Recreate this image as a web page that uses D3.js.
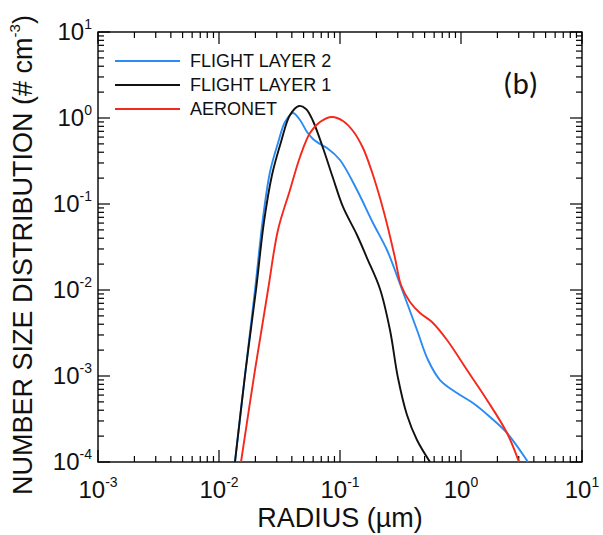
<!DOCTYPE html>
<html><head><meta charset="utf-8">
<script src="https://cdn.jsdelivr.net/npm/d3@7"></script>
<style>body{margin:0;background:#fff}svg{display:block;font-family:"Liberation Sans",Arial,sans-serif}</style>
</head><body><svg id="c" width="603" height="535"></svg>
<script>
// ---- data ----
const seriesNames = ["FLIGHT LAYER 2","FLIGHT LAYER 1","AERONET"];
const seriesColors = ["#2a8cf2","#111111","#f5281c"];
const blueR = [0.01355,0.01641,0.01984,0.02310,0.02639,0.03073,0.03512,0.04089,0.04670,0.05338,0.05982,0.06834,0.07810,0.1,0.1382,0.1874,0.2445,0.3132,0.4328,0.5337,0.6707,0.9267,1.256,1.737,2.400,3.579];
const blueN = [1e-4,1.027e-3,0.01,0.0688,0.2355,0.5122,0.8985,1.143,0.948,0.6873,0.5700,0.4984,0.4478,0.3249,0.1455,0.0601,0.02919,0.01174,3.425e-3,1.535e-3,8.98e-4,6.34e-4,4.85e-4,3.34e-4,2.174e-4,1e-4];
const blackR = [0.01355,0.01641,0.02022,0.02354,0.02742,0.03254,0.03862,0.04582,0.05236,0.05982,0.07236,0.08752,0.1059,0.1382,0.1672,0.2141,0.2589,0.3015,0.3579,0.4328,0.5546];
const blackN = [1e-4,1.027e-3,0.01,0.0618,0.2174,0.5259,1.084,1.379,1.273,0.9228,0.4478,0.2006,0.0923,0.0436,0.02355,0.01027,3.425e-3,9.48e-4,3.52e-4,1.802e-4,1e-4];
const redR = [0.01520,0.01984,0.02541,0.03073,0.03862,0.04670,0.05649,0.06834,0.08589,0.1059,0.1281,0.1549,0.1838,0.2141,0.2492,0.2848,0.3192,0.3789,0.4584,0.5757,0.7662,1.121,1.640,2.400,3.015];
const redN = [1e-4,1.175e-3,0.01,0.0499,0.1455,0.3520,0.669,0.8985,1.027,0.9228,0.7064,0.4478,0.2355,0.1174,0.0526,0.02355,0.01143,7.25e-3,5.40e-3,4.245e-3,2.622e-3,1.175e-3,5.26e-4,2.174e-4,1e-4];
const xDecades = [-3,-2,-1,0,1];
const yDecades = [-4,-3,-2,-1,0,1];
const xTitle = "RADIUS (\u00b5m)";
const panelLabel = "(b)";

// ---- layout ----
const L=98,R=582,T=32,B=462;
const svg=d3.select("#c");
const x=d3.scaleLog().domain([1e-3,10]).range([L,R]);
const y=d3.scaleLog().domain([1e-4,10]).range([B,T]);

svg.append("defs").append("clipPath").attr("id","clip")
  .append("rect").attr("x",L).attr("y",T).attr("width",R-L).attr("height",B-T);

// ticks
function tickVals(decs){const v=[];for(let i=0;i<decs.length-1;i++){for(let m=1;m<10;m++)v.push({v:m*Math.pow(10,decs[i]),major:m===1});}v.push({v:Math.pow(10,decs[decs.length-1]),major:true});return v;}
const g=svg.append("g").attr("stroke","#000").attr("stroke-width",1.2);
tickVals(xDecades).forEach(t=>{const px=x(t.v),len=t.major?12:6;
  g.append("line").attr("x1",px).attr("x2",px).attr("y1",B).attr("y2",B-len);
  g.append("line").attr("x1",px).attr("x2",px).attr("y1",T).attr("y2",T+len);});
tickVals(yDecades).forEach(t=>{const py=y(t.v),len=t.major?12:6;
  g.append("line").attr("x1",L).attr("x2",L+len).attr("y1",py).attr("y2",py);
  g.append("line").attr("x1",R).attr("x2",R-len).attr("y1",py).attr("y2",py);});
svg.append("rect").attr("x",L).attr("y",T).attr("width",R-L).attr("height",B-T)
  .attr("fill","none").attr("stroke","#000").attr("stroke-width",1.4);

// tick labels
xDecades.forEach(e=>{const t=svg.append("text").attr("x",x(Math.pow(10,e))).attr("y",498)
  .attr("text-anchor","middle").attr("font-size",24).attr("fill","#111");
  t.append("tspan").text("10");
  t.append("tspan").attr("font-size",14).attr("dy",-11).text(e<0?"-"+(-e):String(e));});
yDecades.forEach(e=>{const t=svg.append("text").attr("x",92).attr("y",y(Math.pow(10,e))+8)
  .attr("text-anchor","end").attr("font-size",24).attr("fill","#111");
  t.append("tspan").text("10");
  t.append("tspan").attr("font-size",14).attr("dy",-11).text(e<0?"-"+(-e):String(e));});

// axis titles
svg.append("text").attr("x",(L+R)/2).attr("y",527).attr("text-anchor","middle")
  .attr("font-size",27).attr("fill","#111").text(xTitle);
const yt=svg.append("text").attr("transform",`translate(32,${(T+B)/2+8}) rotate(-90)`)
  .attr("text-anchor","middle").attr("font-size",27).attr("fill","#111");
yt.append("tspan").text("NUMBER SIZE DISTRIBUTION (# cm");
yt.append("tspan").attr("font-size",15).attr("dy",-12).text("-3");
yt.append("tspan").attr("dy",12).text(")");

// curves
const series=[[blueR,blueN],[blackR,blackN],[redR,redN]];
const line=d3.line().x(d=>x(d[0])).y(d=>y(d[1])).curve(d3.curveCatmullRom.alpha(0.5));
const cg=svg.append("g").attr("clip-path","url(#clip)");
series.forEach((s,i)=>{const pts=s[0].map((r,j)=>[r,s[1][j]]);
  cg.append("path").attr("d",line(pts)).attr("fill","none").attr("stroke",seriesColors[i]).attr("stroke-width",1.9);});

// legend
seriesNames.forEach((n,i)=>{const ly=61+i*24;
  svg.append("line").attr("x1",115).attr("x2",180).attr("y1",ly).attr("y2",ly).attr("stroke",seriesColors[i]).attr("stroke-width",1.9);
  svg.append("text").attr("x",190).attr("y",ly+6).attr("font-size",18).attr("fill","#111").text(n);});

svg.append("text").attr("x",503).attr("y",94).attr("font-size",31).attr("fill","#111")
  .attr("font-family","Carlito, 'Open Sans', sans-serif").text(panelLabel);
</script></body></html>
